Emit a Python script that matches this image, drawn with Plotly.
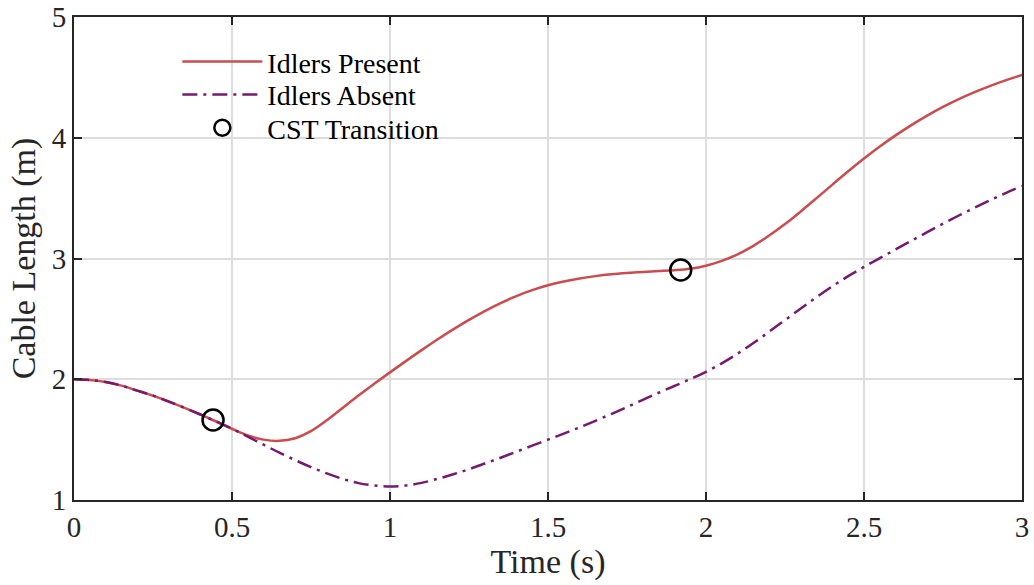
import plotly.graph_objects as go

time = [0.00, 0.05, 0.10, 0.15, 0.20, 0.25, 0.30, 0.35, 0.40, 0.45, 0.50, 0.55, 0.60, 0.65, 0.70,
        0.75, 0.80, 0.85, 0.90, 0.95, 1.00, 1.05, 1.10, 1.15, 1.20, 1.25, 1.30, 1.35, 1.40, 1.45,
        1.50, 1.55, 1.60, 1.65, 1.70, 1.75, 1.80, 1.85, 1.90, 1.95, 2.00, 2.05, 2.10, 2.15, 2.20,
        2.25, 2.30, 2.35, 2.40, 2.45, 2.50, 2.55, 2.60, 2.65, 2.70, 2.75, 2.80, 2.85, 2.90, 2.95, 3.00]
idlers_present = [2.000, 1.994, 1.977, 1.947, 1.906, 1.864, 1.815, 1.763, 1.708, 1.650, 1.590,
                  1.535, 1.500, 1.490, 1.512, 1.570, 1.660, 1.762, 1.865, 1.962, 2.057, 2.150,
                  2.241, 2.329, 2.413, 2.492, 2.565, 2.631, 2.689, 2.738, 2.778, 2.810, 2.835,
                  2.854, 2.869, 2.880, 2.889, 2.896, 2.903, 2.915, 2.940, 2.980, 3.035, 3.105,
                  3.190, 3.285, 3.390, 3.500, 3.612, 3.722, 3.828, 3.928, 4.020, 4.105, 4.183,
                  4.255, 4.320, 4.378, 4.430, 4.477, 4.520]
idlers_absent = [2.000, 1.994, 1.977, 1.947, 1.906, 1.864, 1.815, 1.763, 1.708, 1.650, 1.590,
                 1.525, 1.458, 1.392, 1.330, 1.272, 1.220, 1.175, 1.140, 1.120, 1.112, 1.120,
                 1.142, 1.175, 1.213, 1.255, 1.302, 1.350, 1.400, 1.450, 1.500, 1.550, 1.602,
                 1.656, 1.712, 1.770, 1.830, 1.888, 1.944, 2.001, 2.062, 2.132, 2.212, 2.300,
                 2.394, 2.490, 2.586, 2.680, 2.770, 2.854, 2.930, 3.003, 3.075, 3.147, 3.218,
                 3.288, 3.356, 3.421, 3.484, 3.544, 3.600]
cst_time = [0.44, 1.92]
cst_length = [1.663, 2.905]

FONT = "Liberation Serif"
INK = "#262626"
LEG_FONT = dict(family=FONT, size=28, color="black")
fig = go.Figure()
fig.add_trace(go.Scatter(x=time, y=idlers_present, mode="lines", name="Idlers Present",
                         legend="legend",
                         line=dict(color="#CB4C4E", width=2.5, shape="spline")))
fig.add_trace(go.Scatter(x=time, y=idlers_absent, mode="lines", name="Idlers Absent",
                         legend="legend2",
                         line=dict(color="#751A6E", width=2.5, shape="spline",
                                   dash="15px,6px,3px,6px")))
fig.add_trace(go.Scatter(x=cst_time, y=cst_length, mode="markers", name="CST Transition",
                         legend="legend3",
                         marker=dict(symbol="circle-open", size=21, color="black",
                                     line=dict(width=2.5, color="black"))))

axis_common = dict(showline=True, linecolor=INK, linewidth=2, mirror="ticks",
                   ticks="inside", ticklen=8, tickwidth=2, tickcolor=INK,
                   showgrid=True, gridcolor="#DDDDDD", gridwidth=2, zeroline=False,
                   automargin=False, ticklabeloverflow="allow",
                   tickfont=dict(family=FONT, size=29, color=INK))
fig.update_xaxes(range=[0, 3], tickvals=[0, 0.5, 1, 1.5, 2, 2.5, 3],
                 ticktext=["0", "0.5", "1", "1.5", "2", "2.5", "3"],
                 title=dict(text="Time (s)", font=dict(family=FONT, size=34, color=INK), standoff=4),
                 **axis_common)
fig.update_yaxes(range=[1, 5], tickvals=[1, 2, 3, 4, 5],
                 title=dict(text="Cable Length (m)", font=dict(family=FONT, size=34, color=INK), standoff=6),
                 **axis_common)

def leg(yc):
    return dict(x=0.109, y=yc, xanchor="left", yanchor="middle", bgcolor="rgba(0,0,0,0)",
                itemwidth=80, font=LEG_FONT, borderwidth=0)

fig.update_layout(width=1034, height=585, margin=dict(l=74, r=12, t=17, b=85),
                  paper_bgcolor="white", plot_bgcolor="white",
                  legend=leg(0.907), legend2=leg(0.839), legend3=leg(0.770),
                  showlegend=True)
fig.write_html("out.html", config={"displayModeBar": False},
               post_script="document.body.style.margin='0';document.body.style.overflow='hidden';")
